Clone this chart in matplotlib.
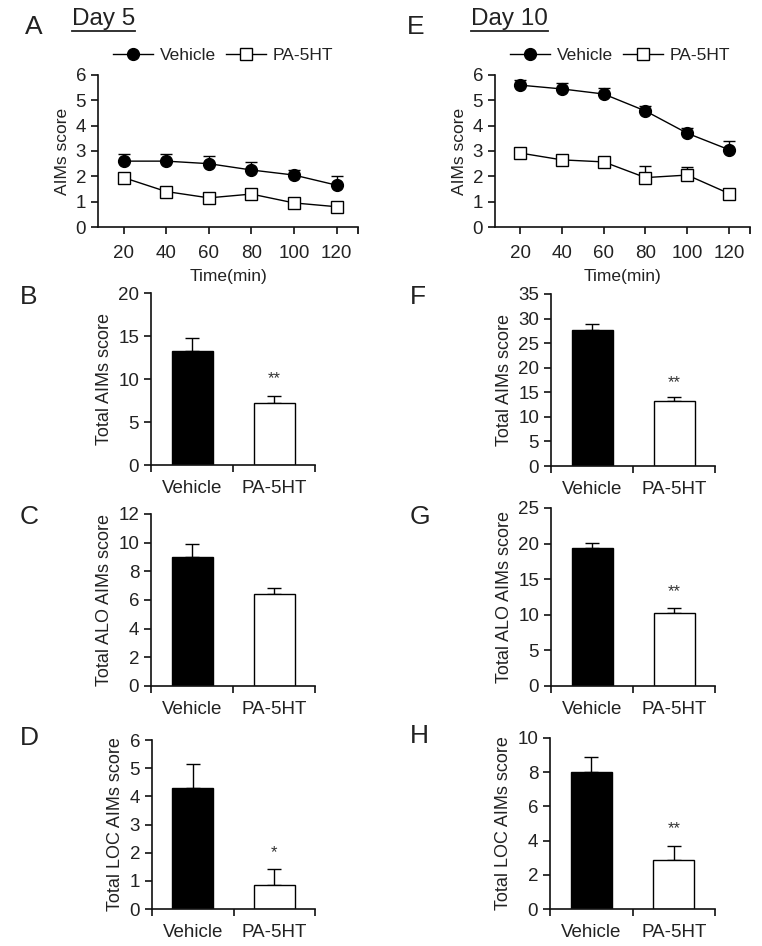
import numpy as np
import matplotlib
matplotlib.use('Agg')
import matplotlib.pyplot as plt

plt.rcParams['font.family'] = ['Liberation Sans', 'DejaVu Sans']

time = [20, 40, 60, 80, 100, 120]
groups = ['Vehicle', 'PA-5HT']

# day 5 time course
d5_veh = [2.6, 2.6, 2.5, 2.25, 2.05, 1.65]
d5_veh_err = [0.3, 0.3, 0.3, 0.3, 0.2, 0.35]
d5_pa = [1.95, 1.4, 1.15, 1.3, 0.95, 0.8]
d5_pa_err = [0.1, 0.1, 0.1, 0.1, 0.1, 0.1]

# day 10 time course
d10_veh = [5.6, 5.45, 5.25, 4.58, 3.7, 3.05]
d10_veh_err = [0.2, 0.25, 0.25, 0.2, 0.2, 0.35]
d10_pa = [2.92, 2.65, 2.57, 1.95, 2.05, 1.32]
d10_pa_err = [0.1, 0.1, 0.15, 0.45, 0.3, 0.1]

# totals (vehicle, PA-5HT)
total_d5 = [13.3, 7.2]
total_d5_err = [1.5, 0.8]
alo_d5 = [9.0, 6.4]
alo_d5_err = [0.9, 0.45]
loc_d5 = [4.3, 0.85]
loc_d5_err = [0.85, 0.58]

total_d10 = [27.6, 13.2]
total_d10_err = [1.3, 0.8]
alo_d10 = [19.4, 10.2]
alo_d10_err = [0.7, 0.7]
loc_d10 = [8.0, 2.85]
loc_d10_err = [0.9, 0.85]

TXT = '#222222'
W, H = 762, 946

fig = plt.figure(figsize=(W / 100, H / 100), dpi=100)


def box(l, t, r, b):
    return [l / W, 1 - b / H, (r - l) / W, (b - t) / H]


def style(ax):
    ax.spines['top'].set_visible(False)
    ax.spines['right'].set_visible(False)
    for s in ['left', 'bottom']:
        ax.spines[s].set_linewidth(1.2)
        ax.spines[s].set_color('#111111')
    ax.tick_params(direction='out', length=5, width=1.2, labelsize=13.5, colors='#111111', labelcolor=TXT)


def line_panel(pos, veh, veh_err, pa, pa_err):
    ax = fig.add_axes(pos)
    z = np.zeros(len(time))
    ax.errorbar(time, veh, yerr=[z, veh_err], color='black', lw=1, marker='o', ms=8.5,
                capsize=4, elinewidth=1, capthick=1, label='Vehicle', zorder=3)
    ax.errorbar(time, pa, yerr=[z, pa_err], color='black', lw=1, marker='s', ms=8,
                mfc='white', mec='black', mew=1, capsize=4, elinewidth=1, capthick=1,
                label='PA-5HT', zorder=3)
    ax.set_xlim(8, 130)
    ax.set_ylim(0, 6)
    ax.set_xticks(time)
    ax.set_xticks([130], minor=True)
    ax.tick_params(which='minor', direction='out', length=5, width=1.2)
    ax.set_yticks(range(0, 7))
    ax.set_xlabel('Time(min)', fontsize=12.5, color=TXT, labelpad=5)
    ax.set_ylabel('AIMs score', fontsize=12.5, color=TXT, labelpad=4)
    style(ax)
    ax.tick_params(axis='x', pad=8)
    h, lab = ax.get_legend_handles_labels()
    hh = [x[0] for x in h]
    ax.legend(hh, lab, loc='lower left', bbox_to_anchor=(0.03, 1.03), ncol=2, frameon=False,
              fontsize=12.5, handlelength=2.3, handletextpad=0.4, columnspacing=0.6,
              borderaxespad=0, labelcolor=TXT)
    return ax


def bar_panel(pos, vals, errs, ymax, step, ylabel, star=None, star_y=None):
    ax = fig.add_axes(pos)
    x = [0.5, 1.5]
    ax.bar(x, vals, width=0.5, color=['black', 'white'], edgecolor='black', linewidth=1, zorder=2)
    ax.errorbar(x, vals, yerr=[[0, 0], errs], fmt='none', ecolor='black', elinewidth=1,
                capsize=5, capthick=1, zorder=1)
    ax.set_xlim(0, 2)
    ax.set_ylim(0, ymax)
    ax.set_yticks(np.arange(0, ymax + 0.01, step))
    ax.set_xticks([0, 1, 2])
    ax.set_xticklabels([])
    ax.set_xticks(x, minor=True)
    ax.set_xticklabels(groups, minor=True)
    style(ax)
    ax.tick_params(axis='x', which='minor', length=0, pad=11, labelsize=13.5, labelcolor=TXT)
    ax.set_ylabel(ylabel, fontsize=13, color=TXT, labelpad=4)
    if star:
        ax.text(1.5, star_y, star, ha='center', va='center', fontsize=12, color='#333333')
    return ax


line_panel(box(98, 75, 358, 227), d5_veh, d5_veh_err, d5_pa, d5_pa_err)
line_panel(box(495, 75, 750, 227), d10_veh, d10_veh_err, d10_pa, d10_pa_err)

bar_panel(box(151, 293, 315, 465), total_d5, total_d5_err, 20, 5, 'Total AIMs score', '**', 10.0)
bar_panel(box(151, 514, 315, 686), alo_d5, alo_d5_err, 12, 2, 'Total ALO AIMs score')
bar_panel(box(152, 740, 315, 909), loc_d5, loc_d5_err, 6, 1, 'Total LOC AIMs score', '*', 2.0)

bar_panel(box(551, 294, 715, 466), total_d10, total_d10_err, 35, 5, 'Total AIMs score', '**', 17.0)
bar_panel(box(551, 508, 715, 686), alo_d10, alo_d10_err, 25, 5, 'Total ALO AIMs score', '**', 13.2)
bar_panel(box(550, 738, 715, 909), loc_d10, loc_d10_err, 10, 2, 'Total LOC AIMs score', '**', 4.7)

# panel letters and titles
letters = [('A', 25, 27), ('B', 20, 297), ('C', 20, 517), ('D', 20, 738),
           ('E', 407, 27), ('F', 410, 297), ('G', 410, 517), ('H', 410, 736)]
for s, px, py in letters:
    fig.text(px / W, 1 - py / H, s, fontsize=19, color=TXT, ha='left', va='center')

t1 = fig.text(72 / W, 1 - 19 / H, 'Day 5', fontsize=17.5, color=TXT, ha='left', va='center')
t2 = fig.text(471 / W, 1 - 19 / H, 'Day 10', fontsize=17.5, color=TXT, ha='left', va='center')
fig.canvas.draw()
r = fig.canvas.get_renderer()
for t in (t1, t2):
    bb = t.get_window_extent(r)
    fig.add_artist(plt.Line2D([bb.x0 / W, bb.x1 / W], [(bb.y0 - 1) / H, (bb.y0 - 1) / H],
                              color=TXT, lw=1.3, transform=fig.transFigure))

fig.savefig('out.png', dpi=100)
